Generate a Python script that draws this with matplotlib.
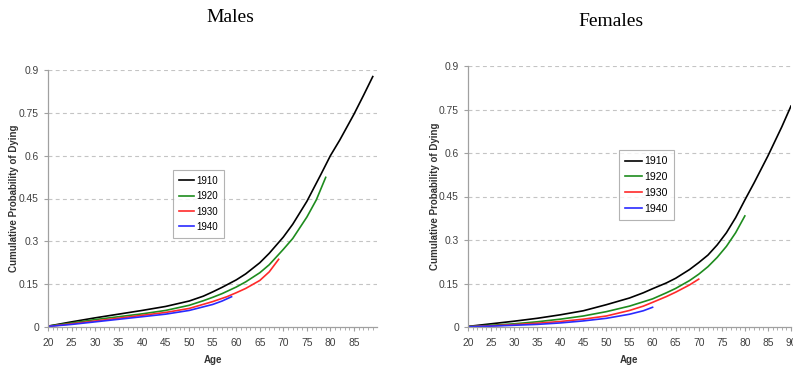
import numpy as np
import matplotlib
matplotlib.use("Agg")
import matplotlib.pyplot as plt
from matplotlib.ticker import MultipleLocator

m_age_1910 = [20, 25, 30, 35, 40, 45, 50, 53, 55, 57, 60, 62, 65, 67, 70, 72, 75, 78, 80, 82, 85, 87, 89]
m_1910 = [0.003, 0.018, 0.032, 0.045, 0.058, 0.072, 0.091, 0.108, 0.123, 0.139, 0.165, 0.186, 0.225, 0.258, 0.315, 0.360, 0.440, 0.535, 0.600, 0.655, 0.745, 0.810, 0.877]
m_age_1920 = [20, 25, 30, 35, 40, 45, 50, 53, 55, 57, 60, 62, 65, 67, 70, 72, 75, 77, 79]
m_1920 = [0.003, 0.014, 0.026, 0.036, 0.046, 0.058, 0.076, 0.092, 0.104, 0.117, 0.140, 0.158, 0.190, 0.218, 0.272, 0.310, 0.385, 0.445, 0.524]
m_age_1930 = [20, 25, 30, 35, 40, 45, 50, 55, 58, 60, 62, 65, 67, 69]
m_1930 = [0.002, 0.011, 0.021, 0.031, 0.041, 0.051, 0.065, 0.089, 0.106, 0.120, 0.135, 0.163, 0.193, 0.237]
m_age_1940 = [20, 25, 30, 35, 40, 45, 50, 55, 57, 59]
m_1940 = [0.002, 0.009, 0.018, 0.027, 0.036, 0.045, 0.058, 0.079, 0.091, 0.106]

f_age_1910 = [20, 25, 30, 35, 40, 45, 50, 55, 58, 60, 63, 65, 68, 70, 72, 74, 76, 78, 80, 82, 85, 88, 90]
f_1910 = [0.002, 0.011, 0.020, 0.030, 0.042, 0.056, 0.077, 0.100, 0.118, 0.132, 0.152, 0.168, 0.198, 0.222, 0.248, 0.283, 0.325, 0.377, 0.438, 0.497, 0.590, 0.690, 0.762]
f_age_1920 = [20, 25, 30, 35, 40, 45, 50, 55, 60, 63, 65, 68, 70, 72, 74, 76, 78, 80]
f_1920 = [0.002, 0.006, 0.011, 0.018, 0.027, 0.038, 0.053, 0.072, 0.097, 0.118, 0.133, 0.160, 0.182, 0.208, 0.240, 0.278, 0.325, 0.383]
f_age_1930 = [20, 25, 30, 35, 40, 45, 50, 55, 58, 60, 63, 65, 68, 70]
f_1930 = [0.001, 0.004, 0.008, 0.013, 0.019, 0.027, 0.038, 0.057, 0.072, 0.085, 0.105, 0.120, 0.145, 0.165]
f_age_1940 = [20, 25, 30, 35, 40, 45, 50, 55, 58, 60]
f_1940 = [0.001, 0.003, 0.006, 0.009, 0.014, 0.021, 0.030, 0.044, 0.056, 0.068]

cohorts = ["1910", "1920", "1930", "1940"]
colors = ["#000000", "#1e8c1e", "#ff2a2a", "#2a2aff"]
yticks = [0, 0.15, 0.3, 0.45, 0.6, 0.75, 0.9]
ytick_labels = ["0", "0.15", "0.3", "0.45", "0.6", "0.75", "0.9"]

W, H = 793, 368
fig = plt.figure(figsize=(W / 100, H / 100), dpi=100)
sans = "Liberation Sans"

def panel(rect, series, xmax, xtick_max, title, title_xy, legend_box, leg_size, ylab_x):
    ax = fig.add_axes(rect)
    for (ages, vals), lab, c in zip(series, cohorts, colors):
        ax.plot(ages, vals, color=c, lw=1.2, label=lab)
    ax.set_xlim(20, xmax)
    ax.set_ylim(0, 0.9)
    ax.set_yticks(yticks)
    ax.set_yticklabels(ytick_labels, family=sans)
    ax.set_xticks(range(20, xtick_max + 1, 5))
    ax.set_xticklabels([str(a) for a in range(20, xtick_max + 1, 5)], family=sans)
    ax.xaxis.set_minor_locator(MultipleLocator(1))
    for y in yticks[1:]:
        ax.axhline(y, color="#c4c4c4", lw=0.8, ls=(0, (3.5, 3)), zorder=0)
    for s in ["top", "right"]:
        ax.spines[s].set_visible(False)
    for s in ["left", "bottom"]:
        ax.spines[s].set_color("#a0a0a0")
        ax.spines[s].set_linewidth(0.9)
    ax.tick_params(axis="both", which="major", labelsize=7.4, colors="#a0a0a0",
                   labelcolor="#404040", length=3, width=0.8)
    ax.tick_params(axis="x", which="minor", colors="#a0a0a0", length=2, width=0.6)
    ax.tick_params(axis="x", pad=5)
    ax.set_xlabel("Age", fontsize=7, fontweight="bold", color="#333333",
                  family=sans, labelpad=5)
    ax.set_ylabel("Cumulative Probability of Dying", fontsize=7, fontweight="bold",
                  color="#333333", family=sans)
    ax.yaxis.set_label_coords(ylab_x, 0.5)
    leg = ax.legend(loc="upper left", bbox_to_anchor=legend_box, borderaxespad=0,
                    prop={"family": sans, "size": leg_size}, frameon=True, fancybox=False,
                    handlelength=1.6, handletextpad=0.2, labelspacing=0.55,
                    borderpad=0.6)
    leg.get_frame().set_edgecolor("#a0a0a0")
    leg.get_frame().set_linewidth(0.8)
    fig.text(title_xy[0] / W, 1 - title_xy[1] / H, title, fontsize=14,
             family="Liberation Serif", ha="center", va="center")
    return ax

m_series = [(m_age_1910, m_1910), (m_age_1920, m_1920), (m_age_1930, m_1930), (m_age_1940, m_1940)]
f_series = [(f_age_1910, f_1910), (f_age_1920, f_1920), (f_age_1930, f_1930), (f_age_1940, f_1940)]

ax1 = panel([48 / W, 1 - 327 / H, 329 / W, 257 / H], m_series, 89.9, 85,
            "Males", (230, 17), (0.38, 0.611), 7, -0.088)
ax2 = panel([468 / W, 1 - 327 / H, 323 / W, 261 / H], f_series, 90, 90,
            "Females", (611, 22), (0.467, 0.678), 7.6, -0.087)

fig.savefig("out.png", dpi=100)
